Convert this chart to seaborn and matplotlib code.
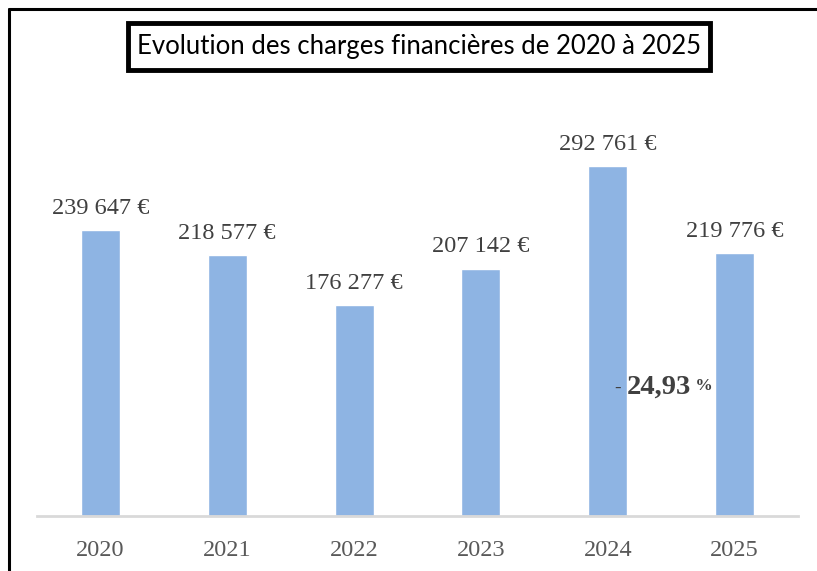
import matplotlib
matplotlib.use("Agg")
import matplotlib.pyplot as plt
import seaborn as sns
import pandas as pd
from matplotlib.lines import Line2D
from matplotlib.patches import Rectangle

years = ["2020", "2021", "2022", "2023", "2024", "2025"]
values = [239647, 218577, 176277, 207142, 292761, 219776]
labels = ["239 647 €", "218 577 €", "176 277 €", "207 142 €", "292 761 €", "219 776 €"]
title = "Evolution des charges financières de 2020 à 2025"
variation = "24,93"

sns.set_theme(style="white")
plt.rcParams["font.family"] = ["Liberation Serif", "DejaVu Serif"]

df = pd.DataFrame({"year": years, "value": values})

fig = plt.figure(figsize=(8.17, 5.71), dpi=100)
ax = fig.add_axes([37 / 817, 55 / 571, 761 / 817, 430 / 571])
sns.barplot(data=df, x="year", y="value", color="#8EB4E3", saturation=1,
            width=0.307, ax=ax)
ax.set_xlim(-0.5, 5.5)
ax.set_ylim(0, 360000)

for i, (v, lab) in enumerate(zip(values, labels)):
    ax.annotate(lab, (i, v), xytext=(0, 8), textcoords="offset points",
                ha="center", va="bottom", fontsize=17.5, color="#404040")

ax.set_xlabel("")
ax.set_ylabel("")
ax.set_yticks([])
ax.tick_params(axis="x", length=0, pad=17, labelsize=17.5, labelcolor="#595959")
for s in ["top", "right", "left"]:
    ax.spines[s].set_visible(False)
ax.spines["bottom"].set_color("#D9D9D9")
ax.spines["bottom"].set_linewidth(2)

# variation annotation
t1 = ax.text(4.06, 107500, "- ", ha="left", va="center", fontsize=14,
             color="#404040")
t2 = ax.annotate(variation, xy=(1, 0.5), xycoords=t1, ha="left", va="center",
                 fontsize=20.5, fontweight="bold", color="#404040")
ax.annotate(" %", xy=(1, 0.55), xycoords=t2, ha="left", va="center",
            fontsize=12.5, fontweight="bold", color="#404040")

# frame lines
fig.add_artist(Line2D([9 / 817, 9 / 817], [0, 1 - 9 / 571], color="black",
                      lw=2.2, transform=fig.transFigure))
fig.add_artist(Line2D([9 / 817, 1], [1 - 9 / 571, 1 - 9 / 571], color="black",
                      lw=2.2, transform=fig.transFigure))

# title box
fig.add_artist(Rectangle((128 / 817, 1 - 70 / 571), 582 / 817, 47 / 571,
                         transform=fig.transFigure, fc="white", ec="black",
                         lw=3.5))
fig.text(419 / 817, 1 - 46.5 / 571, title, ha="center", va="center",
         fontsize=18.5, color="black", family=["Lato", "DejaVu Sans"])

fig.savefig("out.png", dpi=100)
